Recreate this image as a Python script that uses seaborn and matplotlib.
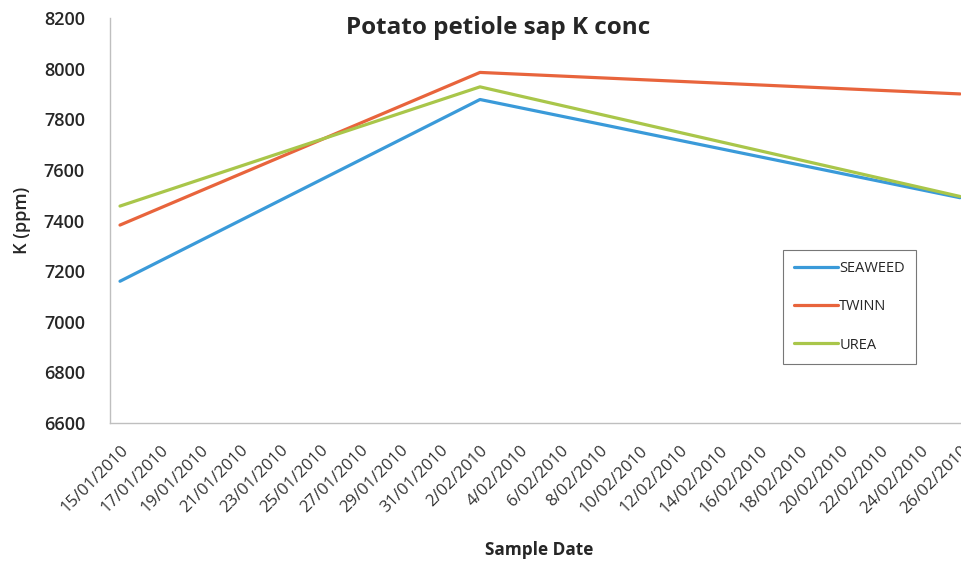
import pandas as pd
import matplotlib
matplotlib.use('Agg')
from matplotlib import pyplot as plt
import matplotlib.dates as mdates
import seaborn as sns
import datetime as dt

# sample dates and K readings (ppm) per treatment
dates = ['2010-01-15', '2010-02-02', '2010-02-26']
seaweed = [7160, 7878, 7490]
twinn = [7382, 7985, 7900]
urea = [7457, 7928, 7495]
treatments = ['SEAWEED', 'TWINN', 'UREA']
colors = ['#3a9ad9', '#e8643c', '#a9c64a']

df = pd.DataFrame({
    'date': pd.to_datetime(dates * 3),
    'K': seaweed + twinn + urea,
    'treatment': [t for t in treatments for _ in dates],
})

sns.set_style('white')
plt.rcParams['font.family'] = ['Open Sans', 'DejaVu Sans']

fig = plt.figure(figsize=(9.61, 5.65), dpi=100)
ax = fig.add_axes([110 / 961, 1 - 423 / 565, 851 / 961, (423 - 18) / 565])

sns.lineplot(data=df, x='date', y='K', hue='treatment',
             palette=dict(zip(treatments, colors)), linewidth=2.3, ax=ax)

start = dt.date(2010, 1, 15)
end = dt.date(2010, 2, 26)
ticks = [start + dt.timedelta(days=2 * i) for i in range(22)]
ax.set_xticks([mdates.date2num(t) for t in ticks])
ax.set_xticklabels([f"{t.day}/{t.month:02d}/{t.year}" for t in ticks],
                   rotation=45, ha='right', rotation_mode='anchor', fontsize=12,
                   color='#333333')
ax.set_xlim(mdates.date2num(start) - 0.5, mdates.date2num(end) + 0.05)

ax.set_ylim(6600, 8200)
ax.set_yticks(range(6600, 8201, 200))
ax.tick_params(axis='y', labelsize=13, pad=18, length=0)
ax.tick_params(axis='x', pad=14, length=0)
for lab in ax.get_yticklabels():
    lab.set_fontweight('semibold')

for s in ['top', 'right']:
    ax.spines[s].set_visible(False)
for s in ['left', 'bottom']:
    ax.spines[s].set_color('#bfbfbf')
    ax.spines[s].set_linewidth(1)

ax.set_xlabel('')
ax.set_ylabel('')
fig.text(22 / 961, 1 - 220 / 565, 'K (ppm)', rotation=90, ha='center', va='center',
         fontsize=13, fontweight='semibold')
fig.text(539 / 961, 1 - 550 / 565, 'Sample Date', ha='center', va='center',
         fontsize=12.4, fontweight='bold')
fig.text(498 / 961, 1 - 28 / 565, 'Potato petiole sap K conc', ha='center', va='center',
         fontsize=17.5, fontweight='bold')

leg = ax.legend(title=None, loc='upper left',
                bbox_to_anchor=(783 / 961, 1 - 250 / 565), bbox_transform=fig.transFigure,
                fancybox=False, frameon=True, fontsize=10.5, handlelength=3.0,
                handletextpad=0.1, labelspacing=1.6, borderpad=0.75, borderaxespad=0)
leg.get_frame().set_edgecolor('#555555')
leg.get_frame().set_linewidth(0.8)
for line in leg.get_lines():
    line.set_linewidth(2.3)

fig.savefig('out.png', dpi=100)
plt.close('all')
